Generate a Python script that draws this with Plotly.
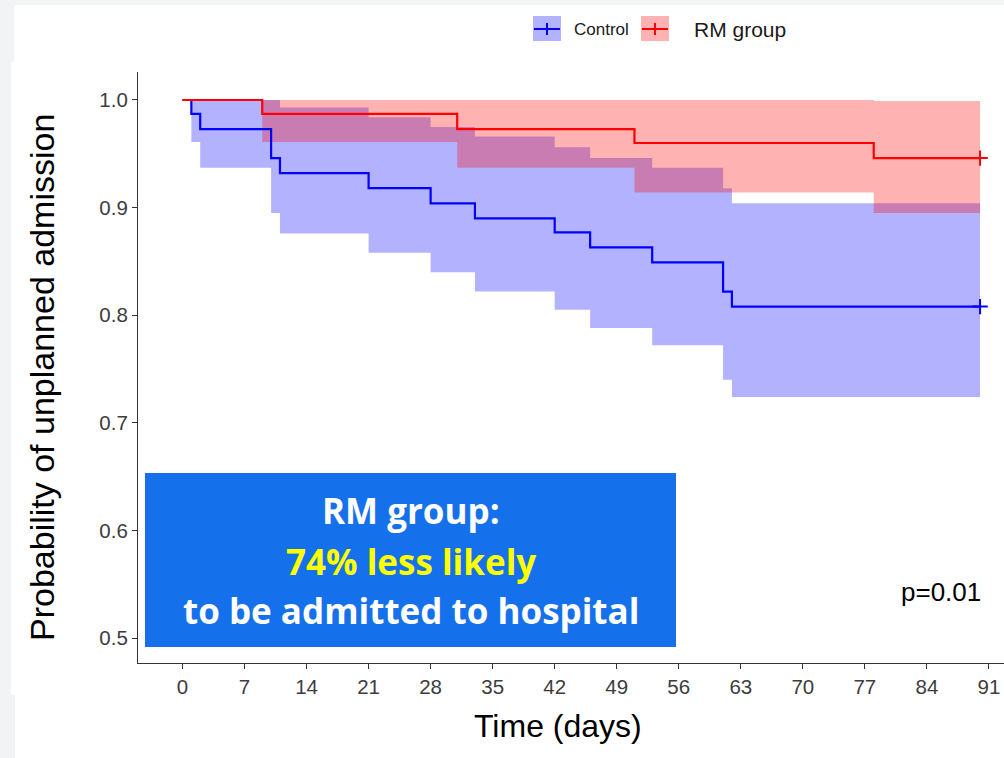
import plotly.graph_objects as go

# ---------------- data ----------------
ctrl_time  = [0, 1, 2, 10, 11, 21, 28, 33, 42, 46, 53, 61, 62, 90]
ctrl_surv  = [1.0, 0.987, 0.973, 0.946, 0.932, 0.918, 0.904, 0.890, 0.877, 0.863, 0.849, 0.822, 0.808, 0.808]
ctrl_lower = [1.0, 0.961, 0.937, 0.895, 0.876, 0.858, 0.840, 0.822, 0.805, 0.788, 0.772, 0.740, 0.724, 0.724]
ctrl_upper = [1.0, 1.0, 1.0, 1.0, 0.993, 0.984, 0.975, 0.966, 0.956, 0.946, 0.937, 0.918, 0.904, 0.904]

rm_time  = [0, 9, 31, 51, 78, 90]
rm_surv  = [1.0, 0.987, 0.973, 0.960, 0.946, 0.946]
rm_lower = [1.0, 0.961, 0.937, 0.914, 0.895, 0.895]
rm_upper = [1.0, 1.0, 1.0, 1.0, 0.999, 0.999]

x_ticks = [0, 7, 14, 21, 28, 35, 42, 49, 56, 63, 70, 77, 84, 91]
y_ticks = [0.5, 0.6, 0.7, 0.8, 0.9, 1.0]
y_tick_text = ["0.5", "0.6", "0.7", "0.8", "0.9", "1.0"]

group_names = ["Control", "RM group"]
x_title = "Time (days)"
y_title = "Probability of unplanned admission"
p_text = "p=0.01"
box_lines = ["RM group:", "74% less likely", "to be admitted to hospital"]

# ---------------- helpers ----------------
W, H = 1004, 758
ML, MR, MT, MB = 138, 0, 72, 95
PW, PH = W - ML - MR, H - MT - MB


def px(xp):
    return (xp - ML) / PW


def py(yp):
    return (H - MB - yp) / PH


def step_path(t, v):
    xs, ys = [], []
    for i in range(len(t)):
        if i > 0:
            xs.append(t[i])
            ys.append(v[i - 1])
        xs.append(t[i])
        ys.append(v[i])
    return xs, ys


def ribbon(t, lo, up):
    xu, yu = step_path(t, up)
    xl, yl = step_path(t, lo)
    return xu + xl[::-1], yu + yl[::-1]


BLUE, RED = "#0000FF", "#FF0000"
BLUE_F, RED_F = "rgba(0,0,255,0.3)", "rgba(255,0,0,0.3)"
AXFONT = "Liberation Sans, Arial"

fig = go.Figure()

for t, lo, up, fc in [(ctrl_time, ctrl_lower, ctrl_upper, BLUE_F),
                      (rm_time, rm_lower, rm_upper, RED_F)]:
    rx, ry = ribbon(t, lo, up)
    fig.add_trace(go.Scatter(x=rx, y=ry, fill="toself", fillcolor=fc,
                             line=dict(width=0), mode="lines",
                             hoverinfo="skip", showlegend=False))

for t, s, c, name in [(ctrl_time, ctrl_surv, BLUE, group_names[0]),
                      (rm_time, rm_surv, RED, group_names[1])]:
    fig.add_trace(go.Scatter(x=t, y=s, mode="lines", line=dict(color=c, width=2.2, shape="hv"),
                             name=name, showlegend=False))
    fig.add_trace(go.Scatter(x=[t[-1]], y=[s[-1]], mode="markers",
                             marker=dict(symbol="cross-thin", size=11, line=dict(color=c, width=2)),
                             showlegend=False, hoverinfo="skip"))

shapes = []
GRAY = "#f2f3f5"
# screenshot frame strips
shapes.append(dict(type="rect", xref="paper", yref="paper", x0=px(0), x1=px(W), y0=py(5), y1=py(0),
                   fillcolor=GRAY, line=dict(width=0), layer="below"))
shapes.append(dict(type="rect", xref="paper", yref="paper", x0=px(0), x1=px(14), y0=py(62), y1=py(0),
                   fillcolor=GRAY, line=dict(width=0), layer="below"))
shapes.append(dict(type="rect", xref="paper", yref="paper", x0=px(0), x1=px(11), y0=py(695), y1=py(62),
                   fillcolor=GRAY, line=dict(width=0), layer="below"))
shapes.append(dict(type="rect", xref="paper", yref="paper", x0=px(0), x1=px(15), y0=py(H), y1=py(695),
                   fillcolor=GRAY, line=dict(width=0), layer="below"))

# manual legend
annotations = []
leg = [(533, 561, BLUE_F, BLUE, group_names[0], 572, 17),
       (641, 669, RED_F, RED, group_names[1], 692, 21)]
for x0, x1, fc, lc, name, tx, fs in leg:
    shapes.append(dict(type="rect", xref="paper", yref="paper", x0=px(x0), x1=px(x1), y0=py(41), y1=py(16),
                       fillcolor=fc, line=dict(width=0)))
    shapes.append(dict(type="line", xref="paper", yref="paper", x0=px(x0 + 1), x1=px(x1 - 1), y0=py(29), y1=py(29),
                       line=dict(color=lc, width=2)))
    xm = (x0 + x1) / 2
    shapes.append(dict(type="line", xref="paper", yref="paper", x0=px(xm), x1=px(xm), y0=py(35), y1=py(23),
                       line=dict(color=lc, width=2)))
    annotations.append(dict(xref="paper", yref="paper", x=px(tx), y=py(29), xanchor="left", yanchor="middle",
                            text=name, showarrow=False,
                            font=dict(family=AXFONT, size=fs, color="#1a1a1a")))

# blue text box
shapes.append(dict(type="rect", xref="paper", yref="paper", x0=px(145), x1=px(676), y0=py(647), y1=py(473),
                   fillcolor="#1570EB", line=dict(width=0)))
box_colors = ["#FFFFFF", "#FFFF00", "#FFFFFF"]
box_y = [510, 561, 610]
for txt, col, yy in zip(box_lines, box_colors, box_y):
    annotations.append(dict(xref="paper", yref="paper", x=px(410.5), y=py(yy), xanchor="center", yanchor="middle",
                            text="<b>" + txt + "</b>", showarrow=False,
                            font=dict(family="Open Sans, Lato, sans-serif", size=35, color=col)))

annotations.append(dict(xref="paper", yref="paper", x=px(983), y=py(592), xanchor="right", yanchor="middle",
                        text=p_text, showarrow=False,
                        font=dict(family=AXFONT, size=26, color="#000000")))

# axis titles
annotations.append(dict(xref="paper", yref="paper", x=px(558), y=py(726), xanchor="center", yanchor="middle",
                        text=x_title, showarrow=False,
                        font=dict(family=AXFONT, size=32, color="#000000")))
annotations.append(dict(xref="paper", yref="paper", x=px(42), y=py(378), xanchor="center", yanchor="middle",
                        text=y_title, showarrow=False, textangle=-90,
                        font=dict(family=AXFONT, size=34, color="#000000")))

fig.update_layout(
    width=W, height=H, autosize=False,
    margin=dict(l=ML, r=MR, t=MT, b=MB, pad=0),
    paper_bgcolor="white", plot_bgcolor="white",
    showlegend=False,
    shapes=shapes, annotations=annotations,
    xaxis=dict(range=[-5.02, 92.7], tickmode="array", tickvals=x_ticks,
               ticktext=[str(v) for v in x_ticks],
               showline=True, linecolor="#333333", linewidth=1.2, mirror=False,
               ticks="outside", ticklen=5, tickwidth=1.2, tickcolor="#333333",
               showgrid=False, zeroline=False,
               tickfont=dict(family=AXFONT, size=20.5, color="#3d3d3d")),
    yaxis=dict(range=[0.4768, 1.026], tickmode="array", tickvals=y_ticks, ticktext=y_tick_text,
               showline=True, linecolor="#333333", linewidth=1.2, mirror=False,
               ticks="outside", ticklen=5, tickwidth=1.2, tickcolor="#333333",
               showgrid=False, zeroline=False,
               tickfont=dict(family=AXFONT, size=20.5, color="#3d3d3d")),
)

fig.write_html("out.html")
